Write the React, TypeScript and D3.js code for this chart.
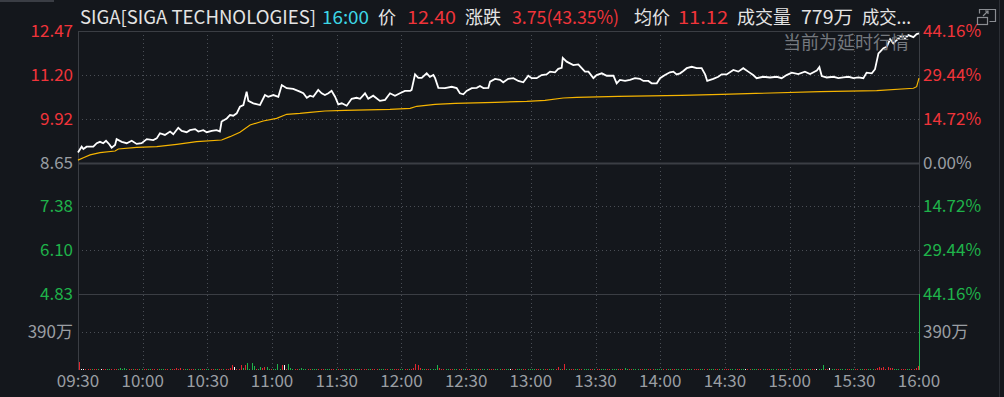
import React from "react";
import * as d3 from "d3";

const W = 1004;
const H = 397;

const preClose = 8.65;
const priceTicks = [12.47, 11.2, 9.92, 8.65, 7.38, 6.1, 4.83];
const pctTicks = ["44.16%", "29.44%", "14.72%", "0.00%", "14.72%", "29.44%", "44.16%"];
const timeTicks = ["09:30", "10:00", "10:30", "11:00", "11:30", "12:00", "12:30", "13:00", "13:30", "14:00", "14:30", "15:00", "15:30", "16:00"];
const volTickValue = 390;
const volTickLabel = "390万";

// [minutes since 09:30, price]
const priceSeries: [number, number][] = [
  [0, 8.94], [1.7, 9.11], [2.5, 9.04], [4, 9.11], [7.1, 9.11], [8.7, 9.21], [10.2, 9.25], [11.7, 9.21], [13, 9.28], [14.5, 9.18],
  [15.6, 9.08], [17.2, 9.16], [17.9, 9.33], [20.3, 9.25], [22.6, 9.21], [24.9, 9.28], [27.2, 9.19], [29.5, 9.21], [31.9, 9.33], [34.9, 9.3],
  [36.5, 9.35], [38, 9.5], [40.3, 9.45], [42.7, 9.55], [44.2, 9.47], [46.5, 9.66], [48.1, 9.57], [50.4, 9.53], [51.9, 9.59], [54.3, 9.62],
  [55.8, 9.55], [58.1, 9.59], [59.7, 9.53], [62, 9.57], [64.3, 9.59], [65.8, 9.55], [66.6, 9.84], [69, 9.93], [70.5, 10.03], [72, 10.01],
  [73.6, 10.08], [75.1, 10.27], [76.7, 10.32], [78.2, 10.71], [79, 10.44], [81.3, 10.37], [84.4, 10.32], [86.7, 10.61], [88.2, 10.56], [90.6, 10.61],
  [92.9, 10.56], [94.5, 10.9], [96.8, 10.81], [99.8, 10.79], [102.9, 10.71], [104.5, 10.66], [106.1, 10.53], [107.6, 10.59], [109.1, 10.56], [111.4, 10.76],
  [113, 10.66], [114.5, 10.61], [116.1, 10.66], [117.6, 10.73], [119.2, 10.56], [120.7, 10.34], [122.3, 10.37], [124.6, 10.3], [126.9, 10.5], [129.2, 10.53],
  [130.8, 10.5], [133.1, 10.66], [134.6, 10.5], [136.9, 10.59], [140, 10.44], [142.4, 10.47], [144.7, 10.66], [147, 10.59], [149.3, 10.66], [151.6, 10.73],
  [154, 10.73], [154.7, 10.76], [156.3, 11.21], [157.8, 11.11], [159.4, 11.11], [161.7, 11.24], [163.2, 11.14], [164.8, 11.19], [165.6, 11.1], [167.1, 10.82],
  [170.2, 10.81], [173.3, 10.85], [175.6, 10.81], [177.1, 10.66], [178.7, 10.63], [180.2, 10.73], [182.6, 10.81], [184.9, 10.82], [186.4, 10.87], [188, 10.81],
  [190.3, 10.82], [191.1, 11.0], [193.4, 11.08], [195.7, 11.05], [197.2, 10.98], [199.5, 11.08], [201.9, 11.1], [204.2, 11.02], [206.5, 10.98], [208.8, 11.17],
  [210.4, 11.1], [212.7, 11.1], [215, 11.19], [217.3, 11.21], [218.9, 11.29], [221.2, 11.27], [222.7, 11.37], [224.3, 11.4], [224.8, 11.69], [226.6, 11.58],
  [229.7, 11.48], [232, 11.5], [233.6, 11.39], [235.1, 11.29], [236.7, 11.29], [239, 11.1], [240.5, 11.19], [242.9, 11.24], [245.2, 11.17], [248.3, 11.17],
  [249.8, 10.95], [251.3, 11.05], [253.7, 11.02], [256, 11.05], [258.3, 11.1], [260.6, 11.08], [262.2, 11.02], [264.5, 11.02], [266, 10.95], [268.4, 10.95],
  [269.9, 11.1], [272.2, 11.19], [274.5, 11.27], [276.1, 11.29], [277.6, 11.21], [279.2, 11.24], [280.7, 11.31], [282.3, 11.39], [284.6, 11.43], [286.9, 11.39],
  [289.2, 11.39], [290.8, 11.21], [291.8, 11.02], [294.6, 11.08], [296.9, 11.14], [298.5, 11.21], [300.8, 11.21], [303.9, 11.34], [306.2, 11.29], [308.5, 11.39],
  [310.8, 11.29], [313.1, 11.19], [314.7, 11.1], [317.8, 11.14], [320.9, 11.12], [324, 11.14], [326.3, 11.1], [328.6, 11.19], [331, 11.26], [334, 11.22],
  [337.1, 11.29], [339.5, 11.22], [342.6, 11.32], [343.8, 11.42], [344.9, 11.16], [347.2, 11.12], [350.3, 11.14], [352.6, 11.1], [354.9, 11.12], [357.3, 11.14],
  [359.6, 11.1], [361.9, 11.12], [364.2, 11.1], [365.7, 11.26], [368.1, 11.24], [369.6, 11.36], [371.2, 11.82], [372, 11.87], [373.5, 11.97], [375, 12.01],
  [376.6, 12.23], [378.1, 12.11], [379.7, 12.21], [382, 12.33], [383.5, 12.26], [385.1, 12.35], [387.4, 12.29], [388.9, 12.38], [390, 12.4],
];

// [minutes since 09:30, average price]
const avgSeries: [number, number][] = [
  [0, 8.72], [2.5, 8.79], [5.6, 8.87], [10.2, 8.935], [17.2, 8.984], [18.7, 9.042], [27.2, 9.091], [36.5, 9.109], [45.8, 9.179], [55, 9.254],
  [66.6, 9.304], [70.5, 9.4], [75.1, 9.527], [79.8, 9.739], [85.9, 9.856], [92.1, 9.934], [96.8, 10.05], [102.9, 10.079], [107.6, 10.108], [114.5, 10.146],
  [123.8, 10.166], [144.7, 10.195], [154, 10.225], [157.1, 10.283], [165.6, 10.341], [174.9, 10.37], [193.4, 10.399], [208.1, 10.428], [216.6, 10.457], [225, 10.524],
  [231.3, 10.544], [250.6, 10.573], [280, 10.602], [298.5, 10.631], [344.1, 10.707], [370.4, 10.736], [387.4, 10.806], [388.9, 10.852], [390, 11.1],
];

// per-minute volume (万), 09:30 .. 15:59
const volValues: number[] = [
  80, 10, 8, 8, 12, 8, 10, 8, 8, 10, 8, 8, 10, 12, 8, 8, 10, 8, 8, 18, 15, 18, 10, 8, 8, 10, 8, 8, 10, 8,
  8, 10, 8, 8, 10, 8, 8, 12, 8, 8, 10, 8, 8, 10, 12, 18, 15, 18, 10, 8, 8, 10, 8, 8, 10, 12, 8, 8, 10, 8,
  8, 10, 12, 8, 10, 8, 8, 10, 12, 15, 20, 50, 30, 10, 15, 55, 20, 55, 70, 15, 70, 40, 12, 15, 35, 20, 30, 35, 15, 10,
  12, 15, 60, 15, 50, 50, 15, 60, 20, 15, 12, 10, 15, 18, 10, 12, 10, 8, 12, 15, 10, 8, 10, 12, 8, 10, 8, 12, 10, 8,
  10, 8, 12, 10, 8, 10, 15, 10, 8, 10, 12, 8, 10, 8, 10, 12, 8, 10, 8, 12, 10, 15, 10, 8, 10, 12, 8, 10, 12, 8,
  10, 12, 15, 10, 12, 18, 60, 55, 20, 12, 10, 15, 12, 10, 12, 8, 50, 25, 12, 10, 15, 12, 10, 8, 12, 10, 8, 10, 12, 8,
  10, 8, 12, 10, 8, 10, 12, 8, 10, 8, 12, 10, 8, 10, 15, 10, 8, 10, 12, 8, 10, 8, 12, 10, 15, 8, 10, 12, 8, 10,
  8, 10, 12, 8, 10, 15, 10, 8, 12, 10, 8, 15, 30, 12, 10, 60, 15, 10, 12, 8, 10, 12, 10, 8, 12, 10, 8, 10, 12, 8,
  10, 8, 12, 10, 8, 10, 12, 8, 10, 8, 12, 10, 15, 18, 10, 8, 10, 12, 8, 10, 12, 8, 10, 8, 12, 10, 8, 10, 12, 10,
  8, 10, 12, 8, 10, 12, 15, 10, 8, 12, 15, 10, 8, 10, 12, 8, 10, 12, 8, 10, 8, 12, 10, 8, 10, 12, 8, 10, 12, 8,
  10, 8, 12, 10, 8, 10, 12, 8, 10, 10, 12, 8, 10, 12, 8, 10, 12, 10, 8, 12, 10, 8, 15, 10, 12, 8, 10, 12, 8, 10,
  8, 10, 12, 8, 10, 12, 8, 10, 12, 10, 8, 12, 10, 8, 10, 50, 12, 10, 20, 10, 8, 12, 10, 8, 10, 12, 8, 10, 12, 10,
  8, 10, 12, 10, 8, 12, 10, 15, 12, 10, 20, 35, 25, 30, 15, 35, 25, 20, 15, 12, 10, 15, 12, 10, 15, 12, 10, 15, 20, 40,
];

// r = up, g = down, w = flat
const volDirs =
  "rwwrrrgrrgwrrggrrrgggggrrgrrgg" +
  "rrggrrrgggrrgrrrrrrggrrrgggrrg" +
  "grrggrrgrrrrwrrrgrggggrggrrggr" +
  "ggggrwrgggrrggggrrgggrrrgggrrg" +
  "rrrgggrrgggrrrggrrrgggrrggrrrg" +
  "grrgrrrrrggrrggggrrrggrrggrrgg" +
  "rrgggrrgggrrrgggrrggwrrgggrrgg" +
  "ggrrggrrgggrrgrrggrrggrrgggrrg" +
  "rrgggrrgggrrrggrrgggrrggrrrggg" +
  "grrggrrgggrrgggrrrggrrgggrrggr" +
  "rrgggrrggwrrgggrrggrrgggrrgggr" +
  "grrgggrrggrrwgggrrwggrrgggrrgg" +
  "rrggrrgggrrrrrrrrrgggrrrggrrrr";

const headerParts = [
  { text: "SIGA[SIGA TECHNOLOGIES]", x: 80, w: 236, color: "#e4e4e4" },
  { text: "16:00", x: 322, w: 47, color: "#3dd6e4" },
  { text: "价", x: 378, w: 0, color: "#e4e4e4" },
  { text: "12.40", x: 407, w: 49, color: "#f0343a" },
  { text: "涨跌", x: 465, w: 0, color: "#e4e4e4" },
  { text: "3.75(43.35%)", x: 512, w: 107, color: "#f0343a" },
  { text: "均价", x: 634, w: 0, color: "#e4e4e4" },
  { text: "11.12", x: 678, w: 50, color: "#f0343a" },
  { text: "成交量", x: 737, w: 0, color: "#e4e4e4" },
  { text: "779万", x: 801, w: 52, color: "#e4e4e4" },
  { text: "成交...", x: 862, w: 49, color: "#e4e4e4" },
];

const BG = "#14171c";
const RED = "#f0343a";
const GREEN = "#1fb24a";
const GRAY_TXT = "#9a9ea3";
const FRAME = "#3b3e44";
const DOT = "#4a4e55";
const FONT = "'Noto Sans CJK SC', 'Microsoft YaHei', sans-serif";

export default function App() {
  const left = 78;
  const right = 919;
  const top = 31;
  const mid = 294;
  const bottom = 369;

  const x = d3.scaleLinear().domain([0, 390]).range([left, right]);
  const y = d3.scaleLinear().domain([4.83, 12.47]).range([mid, top]);
  const yv = d3.scaleLinear().domain([0, 780]).range([bottom, mid]);

  const line = d3
    .line<[number, number]>()
    .x((d) => x(d[0]))
    .y((d) => y(d[1]));

  const tickColor = (v: number) => (Math.abs(v - preClose) < 0.001 ? GRAY_TXT : v > preClose ? RED : GREEN);

  const timeX = (i: number) => x(i * 30);

  return (
    <svg
      width={W}
      height={H}
      style={{ position: "fixed", left: 0, top: 0, display: "block", background: BG }}
      fontFamily={FONT}
    >
      <rect x={0} y={0} width={W} height={H} fill={BG} />
      {/* top strip */}
      <rect x={0} y={0} width={54} height={2} fill="#3a3d44" />
      <line x1={999.5} y1={0} x2={999.5} y2={H} stroke="#2c2f35" />

      {/* header */}
      {headerParts.map((p, i) =>
        p.w > 0 ? (
          <text key={i} x={p.x} y={24} fill={p.color} fontSize={18} textLength={p.w} lengthAdjust="spacingAndGlyphs">
            {p.text}
          </text>
        ) : (
          <text key={i} x={p.x} y={24} fill={p.color} fontSize={18}>
            {p.text}
          </text>
        )
      )}
      {/* popout icon */}
      <g stroke="#8a8d92" strokeWidth={1.2} fill="none">
        <path d="M979.5,13.5 V9.5 H995.5 V21.5 H989.5" />
        <rect x={977.5} y={17.5} width={10} height={7} />
        <path d="M983,16 L988,11 M985,11 H988 V14" />
      </g>

      {/* grid dotted horizontals */}
      {priceTicks
        .filter((v, i) => i !== 0 && i !== 3 && i !== priceTicks.length - 1)
        .map((v) => (
          <line key={v} x1={left} x2={right} y1={Math.round(y(v)) + 0.5} y2={Math.round(y(v)) + 0.5} stroke={DOT} strokeDasharray="1,3" />
        ))}
      <line x1={left} x2={right} y1={Math.round(yv(volTickValue)) + 0.5} y2={Math.round(yv(volTickValue)) + 0.5} stroke={DOT} strokeDasharray="1,3" />
      {/* grid dotted verticals */}
      {timeTicks.slice(1, -1).map((t, i) => (
        <line key={t} x1={Math.round(timeX(i + 1)) + 0.5} x2={Math.round(timeX(i + 1)) + 0.5} y1={top} y2={bottom} stroke={DOT} strokeDasharray="1,3" />
      ))}

      {/* frame */}
      <line x1={left} x2={right} y1={top + 0.5} y2={top + 0.5} stroke={FRAME} />
      <line x1={left + 0.5} x2={left + 0.5} y1={top} y2={bottom + 1} stroke={FRAME} />
      <line x1={right + 0.5} x2={right + 0.5} y1={top} y2={mid} stroke={FRAME} />
      <line x1={right + 0.5} x2={right + 0.5} y1={mid} y2={bottom + 1} stroke={GREEN} />
      <line x1={left} x2={right} y1={Math.round(y(preClose)) + 0.5} y2={Math.round(y(preClose)) + 0.5} stroke={FRAME} strokeWidth={2} />
      <line x1={left} x2={right} y1={mid + 0.5} y2={mid + 0.5} stroke={FRAME} />

      {/* volume bars */}
      <g shapeRendering="crispEdges">
        {volValues.map((v, i) => {
          const h = Math.max(1, Math.round(bottom - yv(v)));
          const c = volDirs[i] === "g" ? GREEN : volDirs[i] === "w" ? "#ffffff" : "#e0262e";
          return <rect key={i} x={Math.round(x(i)) + 1} y={bottom + 1 - h} width={1} height={h} fill={c} />;
        })}
      </g>

      {/* lines */}
      <path d={line(avgSeries) || ""} fill="none" stroke="#f5b400" strokeWidth={1.2} />
      <path d={line(priceSeries) || ""} fill="none" stroke="#ffffff" strokeWidth={1.8} strokeLinejoin="miter" />

      {/* delayed text */}
      <text x={909} y={49} textAnchor="end" fill="#75797f" fontSize={18}>
        当前为延时行情
      </text>

      {/* left axis labels */}
      {priceTicks.map((v) => (
        <text key={v} x={73} y={y(v)} dy="0.36em" textAnchor="end" fill={tickColor(v)} fontSize={17}>
          {v.toFixed(2)}
        </text>
      ))}
      <text x={73} y={yv(volTickValue)} dy="0.36em" textAnchor="end" fill={GRAY_TXT} fontSize={17}>
        {volTickLabel}
      </text>

      {/* right axis labels */}
      {pctTicks.map((t, i) => (
        <text key={i} x={923} y={y(priceTicks[i])} dy="0.36em" fill={tickColor(priceTicks[i])} fontSize={17}>
          {t}
        </text>
      ))}
      <text x={923} y={yv(volTickValue)} dy="0.36em" fill={GRAY_TXT} fontSize={17}>
        {volTickLabel}
      </text>

      {/* time axis */}
      {timeTicks.map((t, i) => (
        <text key={t} x={timeX(i)} y={381} dy="0.36em" textAnchor="middle" fill={GRAY_TXT} fontSize={17}>
          {t}
        </text>
      ))}
    </svg>
  );
}
